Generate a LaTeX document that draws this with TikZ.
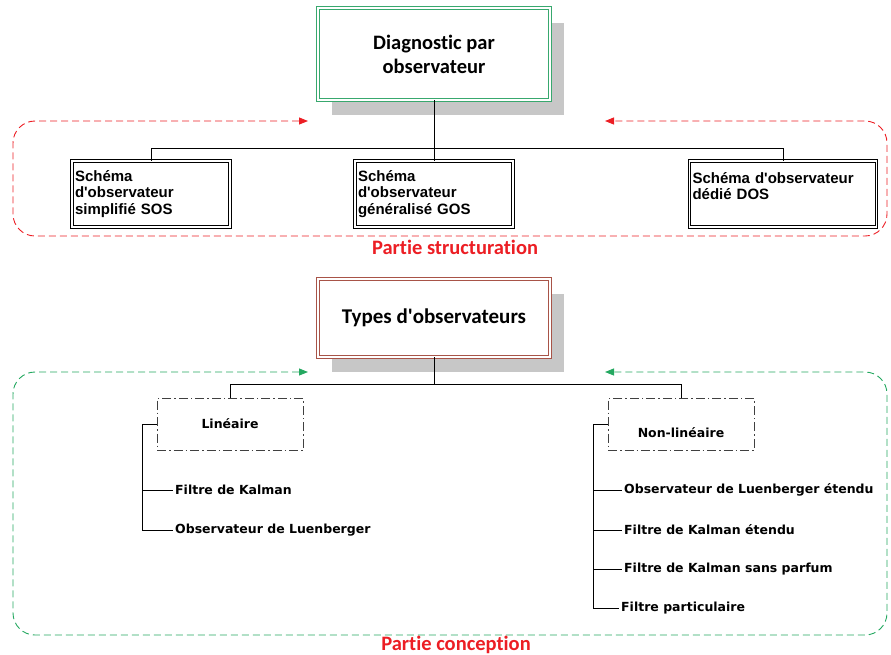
\documentclass[tikz,border=0pt]{standalone}
\usepackage{fontspec}
\setmainfont{Carlito}[Ligatures={TeX,NoCommon}]
\newfontfamily\schemafont{Liberation Sans}
\newfontfamily\itemfont{DejaVu Sans}
\usetikzlibrary{arrows.meta,positioning,shadows}
\definecolor{partred}{RGB}{236,30,36}
\definecolor{partgreen}{RGB}{36,168,96}
\definecolor{titlegreen}{RGB}{56,168,110}
\definecolor{titlebrown}{RGB}{168,84,72}
\tikzset{
  titlebox/.style={draw, line width=0.9pt, double=white, double distance=1.4pt, fill=white,
    minimum width=232pt, align=center, font=\bfseries,
    drop shadow={shadow xshift=14pt, shadow yshift=-15pt, fill=black!22, opacity=1}},
  schemabox/.style={draw=black, line width=1pt, double=white, double distance=1.2pt, fill=white,
    minimum height=66pt, inner sep=3pt, align=left,
    font=\schemafont\bfseries\fontsize{15}{16.5}\selectfont},
  typebox/.style={draw=black!75, line width=0.8pt, dash pattern=on 9pt off 3pt on 1.5pt off 3pt,
    minimum width=146pt, minimum height=52pt},
  item/.style={anchor=west, inner sep=2pt},
  link/.style={draw=black, line width=1pt},
  partframe/.style={{Triangle[length=9pt,width=7pt]}-{Triangle[length=9pt,width=7pt]},
    line width=0.9pt, dash pattern=on 7pt off 4pt, rounded corners=22pt},
  parttitle/.style={text=partred, font=\bfseries\fontsize{20.5}{22}\selectfont}
}

\begin{document}
\begin{tikzpicture}[x=1pt, y=-1pt, font=\itemfont\bfseries\fontsize{12.5}{15}\selectfont]
  \useasboundingbox (0,0) rectangle (891,654);

  % structure part
  \node[titlebox, draw=titlegreen, minimum height=92pt, font=\bfseries\fontsize{20.5}{24}\selectfont] (diag) at (434,54) {Diagnostic par\\observateur};
  \node[schemabox, text width=152pt] (sos) at (151,194) {Schéma\\d'observateur\\simplifié SOS};
  \node[schemabox, text width=152pt] (gos) at (434,194) {Schéma\\d'observateur\\généralisé GOS};
  \node[schemabox, text width=181pt] (dos) at (783,194) {Schéma d'observateur\\dédié DOS\\\mbox{}};
  \draw[link] (diag.south) -- ++(0,48) -| (sos.north);
  \draw[link] (diag.south) -- ++(0,48) -| (dos.north);
  \draw[link] (diag.south) -- (gos.north);

  \coordinate (sleft) at (308,121);
  \coordinate (sright) at (605,121);
  \draw[partframe, draw=partred, fill=none] (sleft) -- (13,121) -- (13,236) -- (887,236) -- (887,121) -- (sright);
  \node[parttitle] (structlabel) at (455,247) {Partie structuration};

  % conception part
  \node[titlebox, draw=titlebrown, minimum height=78pt, font=\bfseries\fontsize{21}{24}\selectfont] (types) at (434,318) {Types d\textquotesingle observateurs};
  \node[typebox] (lin) at (230,424) {Linéaire};
  \node[typebox, text height=27pt] (nonlin) at (681,424) {Non-linéaire};
  \draw[link] (types.south) -- ++(0,27) -| (lin.north);
  \draw[link] (types.south) -- ++(0,27) -| (nonlin.north);

  \node[item] (kalman) at (173,490) {Filtre de Kalman};
  \node[item] (luen) at (173,530) {Observateur de Luenberger};
  \draw[link] (lin.west) -- ++(-14,0) |- (kalman.west);
  \draw[link] (lin.west) -- ++(-14,0) |- (luen.west);

  \node[item] (luenext) at (622,490) {Observateur de Luenberger étendu};
  \node[item] (kalmanext) at (622,530) {Filtre de Kalman étendu};
  \node[item] (ukf) at (622,569) {Filtre de Kalman sans parfum};
  \node[item] (partic) at (619,608) {Filtre particulaire};
  \draw[link] (nonlin.west) -- ++(-14,0) |- (luenext.west);
  \draw[link] (nonlin.west) -- ++(-14,0) |- (kalmanext.west);
  \draw[link] (nonlin.west) -- ++(-14,0) |- (ukf.west);
  \draw[link] (nonlin.west) -- ++(-14,0) |- (partic.west);

  \coordinate (cleft) at (308,372);
  \coordinate (cright) at (605,372);
  \draw[partframe, draw=partgreen, fill=none] (cleft) -- (13,372) -- (13,635) -- (887,635) -- (887,372) -- (cright);
  \node[parttitle] (conclabel) at (456,645) {Partie conception};
\end{tikzpicture}
\end{document}
